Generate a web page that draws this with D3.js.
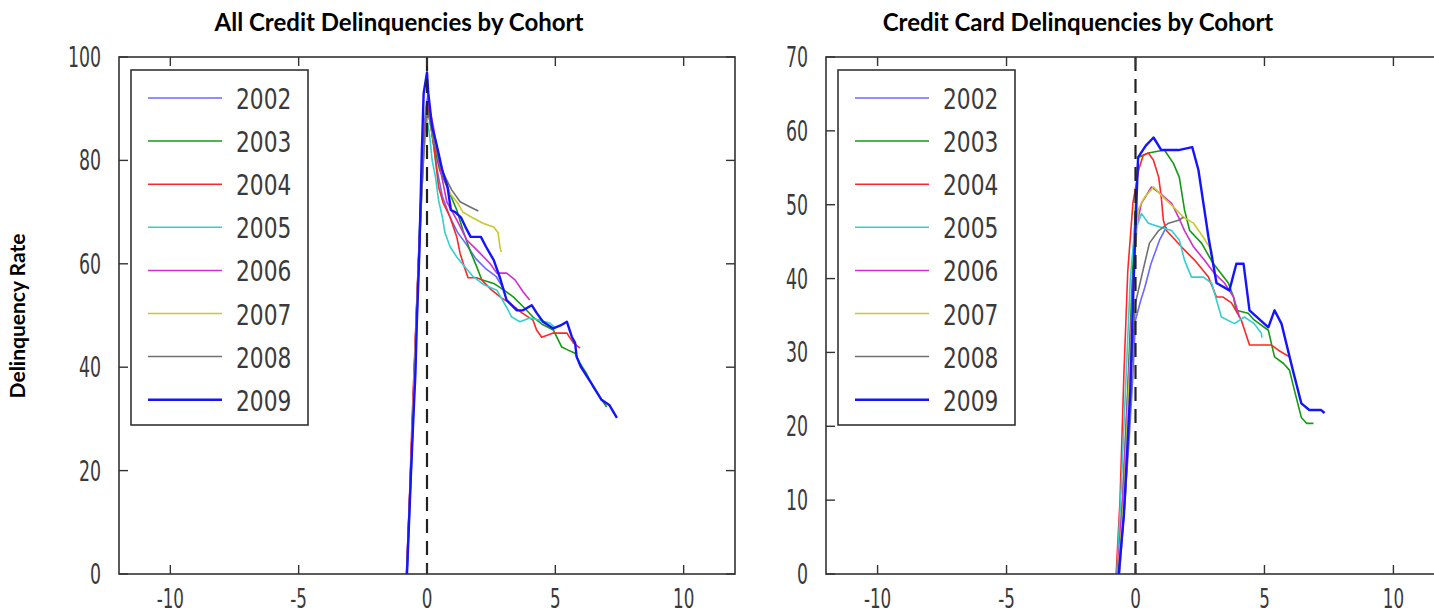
<!DOCTYPE html>
<html>
<head>
<meta charset="utf-8">
<script src="https://cdn.jsdelivr.net/npm/d3@7"></script>
<style>
  body { margin: 0; background: #fff; }
  svg { display: block; }
</style>
</head>
<body>
<svg id="chart" width="1434" height="616"></svg>
<script>
// cohorts and tick values
const cohorts = ["2002", "2003", "2004", "2005", "2006", "2007", "2008", "2009"];
const colors = ["#6a6aff", "#139a13", "#ff2626", "#33d0d0", "#d02ed0", "#c9c92e", "#707070", "#1414ff"];
const xTicks = [-10, -5, 0, 5, 10];
const yTicksAll = [0, 20, 40, 60, 80, 100];
const yTicksCard = [0, 10, 20, 30, 40, 50, 60, 70];

// All credit, [years, rate]
const all2002 = [[-0.8,0],[-0.65,18],[-0.55,32],[-0.45,45],[-0.35,58],[-0.25,72],[-0.15,84],[-0.05,90],[0.05,93],[0.2,85],[0.4,78],[0.6,73],[0.9,69],[1.2,66],[1.5,64],[1.9,61],[2.3,59],[2.7,57.5],[3.0,55]];
const all2003 = [[-0.78,0],[-0.62,22],[-0.5,38],[-0.4,52],[-0.28,68],[-0.15,82],[-0.05,88],[0.05,90],[0.25,83.4],[0.5,78],[0.77,75],[1.16,70.4],[1.4,66.5],[1.68,62.5],[1.94,59.4],[2.13,56.9],[2.6,56.2],[3.0,54.9],[3.36,53.6],[3.75,51.7],[4.13,49.7],[4.52,48.2],[4.92,47.2],[5.25,43.9],[5.5,43.3],[5.77,42.7],[5.96,40.8],[6.2,38.9],[6.47,36.2],[6.74,34.2],[7.0,32.3]];
const all2004 = [[-0.8,0],[-0.68,15],[-0.58,30],[-0.5,40],[-0.38,55],[-0.25,70],[-0.12,83],[0.05,89.7],[0.25,83.4],[0.45,74.9],[0.63,71.8],[0.9,69],[1.16,65.2],[1.29,62],[1.45,59.5],[1.6,57.3],[1.94,57.3],[2.13,56.9],[2.5,55],[2.9,53.4],[3.23,52.4],[3.7,50.5],[4.13,49.1],[4.27,47.2],[4.47,45.8],[4.92,46.6],[5.45,46.6],[5.7,44.7],[5.96,43.7]];
const all2005 = [[-0.78,0],[-0.6,22],[-0.48,40],[-0.36,56],[-0.24,70],[-0.12,82],[0,88],[0.1,85],[0.2,80],[0.33,76.8],[0.45,72.3],[0.6,69],[0.7,66],[0.9,63.3],[1.16,61.3],[1.48,59.4],[1.8,57.5],[2.2,56],[2.72,54.9],[3.1,51.6],[3.3,49.7],[3.62,48.8],[4.0,49.5],[4.4,49.1],[4.8,48.5],[5.0,47.6]];
const all2006 = [[-0.79,0],[-0.64,20],[-0.52,36],[-0.4,52],[-0.28,66],[-0.16,80],[-0.05,88],[0.05,91],[0.25,86.5],[0.45,80],[0.77,72],[1.16,68.5],[1.55,64.6],[1.94,62.7],[2.45,60.1],[2.72,58.2],[3.1,58.2],[3.43,56.9],[3.74,54.6],[4.0,53]];
const all2007 = [[-0.78,0],[-0.6,24],[-0.48,40],[-0.36,56],[-0.24,70],[-0.12,82],[0,88],[0.1,88],[0.25,84],[0.5,80],[0.7,76.2],[0.9,73.6],[1.2,71.7],[1.4,70],[1.74,69],[2.2,67.8],[2.6,67.1],[2.77,66],[2.85,63],[2.9,62.3]];
const all2008 = [[-0.78,0],[-0.6,22],[-0.46,40],[-0.34,56],[-0.22,72],[-0.1,84],[0,90],[0.1,88],[0.3,83],[0.63,77.6],[0.96,74.3],[1.29,72],[1.68,71],[2.0,70.2]];
const all2009 = [[-0.78,0],[-0.62,20],[-0.55,28],[-0.45,39],[-0.4,48],[-0.3,62],[-0.2,82],[-0.13,93],[0,97],[0.05,93],[0.2,86.5],[0.33,84],[0.45,81.4],[0.6,78],[0.8,74.9],[0.93,70.4],[1.1,70],[1.32,69],[1.5,67.1],[1.7,65.2],[2.1,65.2],[2.3,63.3],[2.6,60.7],[2.85,57.2],[3.1,53],[3.5,51],[3.74,51],[4.08,52],[4.27,50.5],[4.52,48.8],[4.92,47.5],[5.25,48.2],[5.45,48.8],[5.64,45.9],[5.77,44.7],[5.83,42],[6.0,40],[6.4,36.9],[6.8,33.7],[7.1,32.7],[7.4,30.2]];

// Credit cards, right panel
const card2002 = [[-0.62,0],[-0.45,8],[-0.25,18],[-0.1,27],[0,34.4],[0.2,37],[0.36,38.8],[0.6,42],[0.93,45.2],[1.2,47]];
const card2003 = [[-0.7,0],[-0.5,10],[-0.3,25],[-0.1,42],[0,50],[0.1,56.4],[0.5,57],[1.12,57.4],[1.47,55.6],[1.7,53.7],[1.9,49.3],[2.1,46.5],[2.56,44.8],[3.0,42.1],[3.6,39.4],[3.8,37.5],[3.9,35.7],[4.37,35.3],[4.6,34.4],[5.15,33],[5.39,29.4],[5.74,28.5],[5.97,27.6],[6.16,24.9],[6.43,21.2],[6.63,20.4],[6.9,20.4]];
const card2004 = [[-0.75,0],[-0.6,10],[-0.45,27],[-0.3,41],[-0.1,50.2],[0.12,54.7],[0.3,56.7],[0.5,57],[0.7,56],[0.9,53.7],[1.0,51],[1.08,47.9],[1.2,46.5],[1.78,44.3],[2.29,42.5],[2.83,40.2],[3.14,37.5],[3.4,37.5],[3.72,36.7],[4.1,34.4],[4.42,31],[5.27,31],[5.54,30.3],[5.97,29.4]];
const card2005 = [[-0.72,0],[-0.55,12],[-0.35,28],[-0.2,40],[-0.05,46],[0.23,48.8],[0.5,47.5],[0.93,47],[1.4,46.5],[1.7,45.2],[1.9,42.5],[2.17,40.2],[2.63,40.2],[2.95,39.4],[3.33,34.8],[3.84,33.9],[4.22,34.8],[4.6,33.9],[4.88,32.6],[4.9,32]];
const card2006 = [[-0.7,0],[-0.5,10],[-0.25,28],[0,46.5],[0.23,50.2],[0.62,52.4],[0.93,51.6],[1.4,50.2],[1.67,48.3],[1.9,46.5],[2.25,44.3],[2.67,42.5],[3.06,40.7],[3.45,39.4],[3.8,37.5],[4.03,34.8]];
const card2007 = [[-0.68,0],[-0.45,10],[-0.2,30],[0,44],[0.1,49.3],[0.35,51],[0.7,52.4],[1.08,51],[1.47,49.7],[1.86,48.3],[2.25,47.5],[2.63,45.6],[2.95,43.8],[3.0,42.7]];
const card2008 = [[-0.66,0],[-0.4,10],[-0.15,28],[0,36.7],[0.23,40.2],[0.54,44.8],[0.9,46.5],[1.28,47.5],[1.67,47.9],[1.86,48.3]];
const card2009 = [[-0.65,0],[-0.45,8],[-0.2,25],[-0.05,42],[0.1,56.4],[0.4,58],[0.7,59.1],[1.0,57.4],[1.67,57.4],[2.2,57.8],[2.44,54.7],[2.83,45.6],[3.14,39.4],[3.64,38.4],[3.91,42],[4.19,42],[4.42,35.7],[5.15,33.4],[5.39,35.7],[5.66,33.9],[6.1,27.6],[6.43,23.1],[6.74,22.2],[7.2,22.2],[7.33,21.8]];

const svg = d3.select("#chart");
const tickFont = "DejaVu Sans, sans-serif";

svg.append("text")
    .attr("transform", "translate(25,316) rotate(-90)")
    .attr("text-anchor", "middle")
    .style("font-family", "Lato, 'Open Sans', sans-serif")
    .style("font-weight", "bold")
    .style("font-size", "21px")
    .text("Delinquency Rate");

function panel(opt) {
  const x = d3.scaleLinear().domain([-12, 12]).range([opt.left, opt.right]);
  const y = d3.scaleLinear().domain([0, opt.yMax]).range([574, 57]);
  const g = svg.append("g");

  g.append("text")
      .attr("x", opt.titleX).attr("y", 31)
      .attr("text-anchor", "middle")
      .style("font-family", "Lato, sans-serif")
      .style("font-weight", "bold")
      .style("font-size", "24px")
      .text(opt.title);

  // lines first, frame drawn on top
  const line = d3.line().x(d => x(d[0])).y(d => y(d[1]));
  opt.series.forEach((s, i) => {
    g.append("path")
        .datum(s)
        .attr("fill", "none")
        .attr("stroke", colors[i])
        .attr("stroke-width", i == 7 ? 2.4 : 1.6)
        .attr("stroke-linejoin", "round")
        .attr("d", line);
  });

  // dashed marker at zero
  g.append("line")
      .attr("x1", x(0)).attr("x2", x(0))
      .attr("y1", y(opt.yMax)).attr("y2", y(0))
      .attr("stroke", "#222")
      .attr("stroke-width", 2.2)
      .attr("stroke-dasharray", "14,8");

  g.append("rect")
      .attr("x", x(-12)).attr("y", y(opt.yMax))
      .attr("width", x(12) - x(-12)).attr("height", y(0) - y(opt.yMax))
      .attr("fill", "none").attr("stroke", "#333").attr("stroke-width", 1.6);

  // inward ticks on every side, matlab style
  const tl = 9;
  xTicks.forEach(t => {
    g.append("line").attr("x1", x(t)).attr("x2", x(t)).attr("y1", y(0)).attr("y2", y(0) - tl)
        .attr("stroke", "#333").attr("stroke-width", 1.4);
    g.append("line").attr("x1", x(t)).attr("x2", x(t)).attr("y1", y(opt.yMax)).attr("y2", y(opt.yMax) + tl)
        .attr("stroke", "#333").attr("stroke-width", 1.4);
    g.append("text")
        .attr("transform", "translate(" + x(t) + ",608) scale(0.62,1)")
        .attr("text-anchor", "middle")
        .style("font-family", tickFont).style("font-size", "27px").style("fill", "#3a3a3a")
        .text(t);
  });
  opt.yTicks.forEach(t => {
    g.append("line").attr("x1", x(-12)).attr("x2", x(-12) + tl).attr("y1", y(t)).attr("y2", y(t))
        .attr("stroke", "#333").attr("stroke-width", 1.4);
    g.append("line").attr("x1", x(12)).attr("x2", x(12) - tl).attr("y1", y(t)).attr("y2", y(t))
        .attr("stroke", "#333").attr("stroke-width", 1.4);
    g.append("text")
        .attr("transform", "translate(" + (x(-12) - 18) + "," + (y(t) + 10) + ") scale(0.62,1)")
        .attr("text-anchor", "end")
        .style("font-family", tickFont).style("font-size", "28px").style("fill", "#3a3a3a")
        .text(t);
  });

  // legend
  const lx = opt.left + 12;
  g.append("rect")
      .attr("x", lx).attr("y", 70).attr("width", 177).attr("height", 355)
      .attr("fill", "#fff").attr("stroke", "#333").attr("stroke-width", 1.6);
  cohorts.forEach((c, i) => {
    const ly = 98 + i * 43.1;
    g.append("line")
        .attr("x1", lx + 17).attr("x2", lx + 91).attr("y1", ly).attr("y2", ly)
        .attr("stroke", colors[i]).attr("stroke-width", i == 7 ? 2.4 : 1.5);
    g.append("text")
        .attr("transform", "translate(" + (lx + 105) + "," + (ly + 11) + ") scale(0.75,1)")
        .style("font-family", tickFont).style("font-size", "29px").style("fill", "#3a3a3a")
        .text(c);
  });
}

panel({
  title: "All Credit Delinquencies by Cohort", titleX: 399,
  left: 119, right: 735, yMax: 100, yTicks: yTicksAll,
  series: [all2002, all2003, all2004, all2005, all2006, all2007, all2008, all2009]
});
panel({
  title: "Credit Card Delinquencies by Cohort", titleX: 1078,
  left: 826, right: 1445, yMax: 70, yTicks: yTicksCard,
  series: [card2002, card2003, card2004, card2005, card2006, card2007, card2008, card2009]
});
</script>
</body>
</html>
